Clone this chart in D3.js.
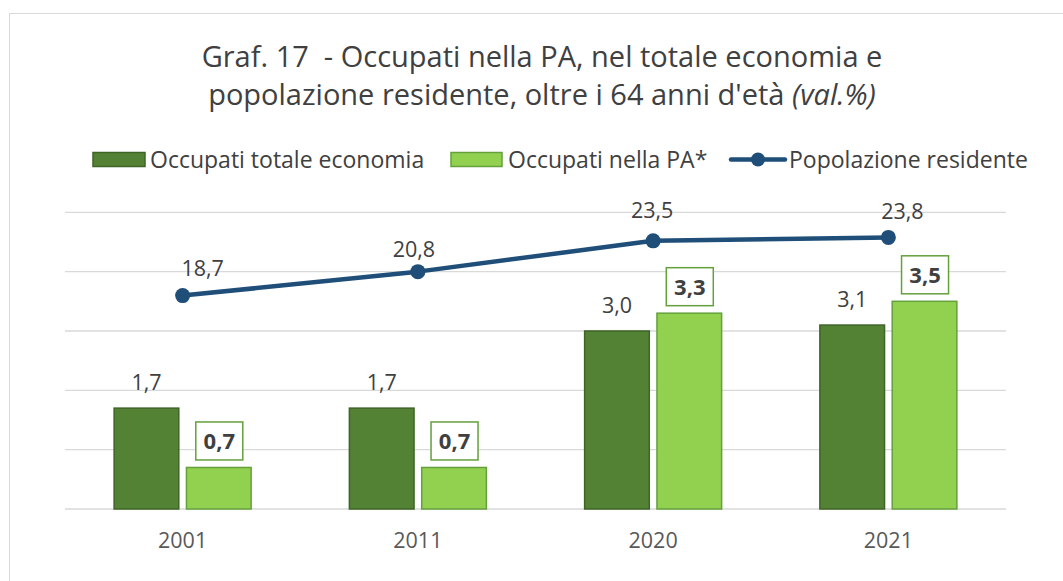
<!DOCTYPE html>
<html lang="it">
<head>
  <meta charset="UTF-8">
  <title>Graf. 17</title>
  <style>
    body { margin: 0; background: #fff; }
    svg { display: block; font-family: "Open Sans", sans-serif; }
    .grid line { stroke: #d9d9d9; stroke-width: 1.3px; }
    .lbl { fill: #404040; font-size: 21.5px; }
    .lbl-b { fill: #404040; font-size: 22px; font-weight: bold; }
    .year { fill: #595959; font-size: 21.5px; }
    .leg { fill: #404040; font-size: 23px; }
  </style>
</head>
<body>
  <svg id="chart" width="1063" height="581"></svg>
  <script src="https://cdn.jsdelivr.net/npm/d3@7"></script>
  <script>
    // dati
    const years = ['2001', '2011', '2020', '2021']
    const totEconomia = [1.7, 1.7, 3.0, 3.1]
    const occupatiPA = [0.7, 0.7, 3.3, 3.5]
    const popolazione = [18.7, 20.8, 23.5, 23.8]
    const gridTicks = [0, 1, 2, 3, 4, 5]
    const seriesNames = ['Occupati totale economia', 'Occupati nella PA*', 'Popolazione residente']

    const fmt = v => d3.format('.1f')(v).replace('.', ',')

    const darkGreen = '#548235', darkStroke = '#3e6426'
    const lightGreen = '#92d050', lightStroke = '#64a03c'
    const blue = '#1f4e79'

    const svg = d3.select('#chart')

    // cornice
    svg.append('rect')
      .attr('x', 9.5).attr('y', 13.5)
      .attr('width', 1100).attr('height', 600)
      .attr('fill', 'none').attr('stroke', '#d9d9d9')

    // titolo
    const title = svg.append('text')
      .attr('text-anchor', 'middle')
      .attr('fill', '#404040')
      .style('font-size', '29px')
      .style('white-space', 'pre')
    title.append('tspan').attr('x', 542).attr('y', 67)
      .text('Graf. 17  - Occupati nella PA, nel totale economia e')
    const t2 = title.append('tspan').attr('x', 542).attr('y', 105)
    t2.append('tspan').text("popolazione residente, oltre i 64 anni d'età ")
    t2.append('tspan').style('font-style', 'italic').text('(val.%)')

    // scale
    const x = d3.scaleBand().domain(years).range([65, 1006])
    const x1 = d3.scaleBand().domain([0, 1]).range([0, 137]).paddingInner(0.106)
    const groupOff = (x.bandwidth() - 137) / 2
    const y = d3.scaleLinear().domain([0, 5]).range([509, 212.3])
    const y2 = d3.scaleLinear().domain([0, 26]).range([509, 212.3])

    // griglia
    svg.append('g').attr('class', 'grid')
      .selectAll('line').data(gridTicks).enter().append('line')
      .attr('x1', 65).attr('x2', 1006)
      .attr('y1', d => y(d)).attr('y2', d => y(d))

    // barre
    const groups = svg.append('g').selectAll('g')
      .data(years).enter().append('g')
      .attr('transform', d => `translate(${x(d) + groupOff},0)`)

    groups.append('rect')
      .attr('x', x1(0)).attr('width', x1.bandwidth())
      .attr('y', (d, i) => y(totEconomia[i]))
      .attr('height', (d, i) => y(0) - y(totEconomia[i]))
      .attr('fill', darkGreen).attr('stroke', darkStroke).attr('stroke-width', 1.5)

    groups.append('rect')
      .attr('x', x1(1)).attr('width', x1.bandwidth())
      .attr('y', (d, i) => y(occupatiPA[i]))
      .attr('height', (d, i) => y(0) - y(occupatiPA[i]))
      .attr('fill', lightGreen).attr('stroke', lightStroke).attr('stroke-width', 1.5)

    // etichette barre scure
    groups.append('text').attr('class', 'lbl')
      .attr('text-anchor', 'middle')
      .attr('x', x1(0) + x1.bandwidth() / 2)
      .attr('y', (d, i) => y(totEconomia[i]) - 18)
      .text((d, i) => fmt(totEconomia[i]))

    // etichette PA con riquadro
    const boxW = 47, boxH = 38
    groups.append('rect')
      .attr('x', x1(1) + x1.bandwidth() / 2 - boxW / 2 + 0.5)
      .attr('y', (d, i) => y(occupatiPA[i]) - 7.5 - boxH)
      .attr('width', boxW).attr('height', boxH)
      .attr('fill', '#fff').attr('stroke', lightStroke).attr('stroke-width', 1.5)
    groups.append('text').attr('class', 'lbl-b')
      .attr('text-anchor', 'middle')
      .attr('x', x1(1) + x1.bandwidth() / 2 + 0.5)
      .attr('y', (d, i) => y(occupatiPA[i]) - 7.5 - boxH / 2 + 8)
      .text((d, i) => fmt(occupatiPA[i]))

    // linea popolazione
    const cx = d => x(d) + x.bandwidth() / 2
    const line = d3.line().x(d => cx(d)).y((d, i) => y2(popolazione[i]))
    svg.append('path')
      .datum(years)
      .attr('d', line)
      .attr('fill', 'none').attr('stroke', blue)
      .attr('stroke-width', 4.5).attr('stroke-linejoin', 'round')
    svg.append('g').selectAll('circle')
      .data(years).enter().append('circle')
      .attr('cx', cx).attr('cy', (d, i) => y2(popolazione[i]))
      .attr('r', 7.5).attr('fill', blue)

    // spostamenti manuali delle etichette della linea
    const popDx = [20, -4, -1, 14]
    const popDy = [-20, -15, -23, -18]
    svg.append('g').selectAll('text')
      .data(years).enter().append('text').attr('class', 'lbl')
      .attr('text-anchor', 'middle')
      .attr('x', (d, i) => cx(d) + popDx[i])
      .attr('y', (d, i) => y2(popolazione[i]) + popDy[i])
      .text((d, i) => fmt(popolazione[i]))

    // asse x
    svg.append('g').selectAll('text')
      .data(years).enter().append('text').attr('class', 'year')
      .attr('text-anchor', 'middle')
      .attr('x', cx).attr('y', 548)
      .text(d => d)

    // legenda
    const leg = svg.append('g')
    leg.append('rect').attr('x', 93).attr('y', 152.5).attr('width', 52).attr('height', 14)
      .attr('fill', darkGreen).attr('stroke', darkStroke).attr('stroke-width', 1.5)
    leg.append('text').attr('class', 'leg').attr('x', 150).attr('y', 167.5).text(seriesNames[0])
    leg.append('rect').attr('x', 451).attr('y', 152.5).attr('width', 51).attr('height', 14)
      .attr('fill', lightGreen).attr('stroke', lightStroke).attr('stroke-width', 1.5)
    leg.append('text').attr('class', 'leg').attr('x', 508).attr('y', 167.5).text(seriesNames[1])
    leg.append('line').attr('x1', 731).attr('x2', 785).attr('y1', 159.5).attr('y2', 159.5)
      .attr('stroke', blue).attr('stroke-width', 4.5).attr('stroke-linecap', 'round')
    leg.append('circle').attr('cx', 758).attr('cy', 159.5).attr('r', 7).attr('fill', blue)
    leg.append('text').attr('class', 'leg').attr('x', 789).attr('y', 167.5).text(seriesNames[2])
  </script>
</body>
</html>
